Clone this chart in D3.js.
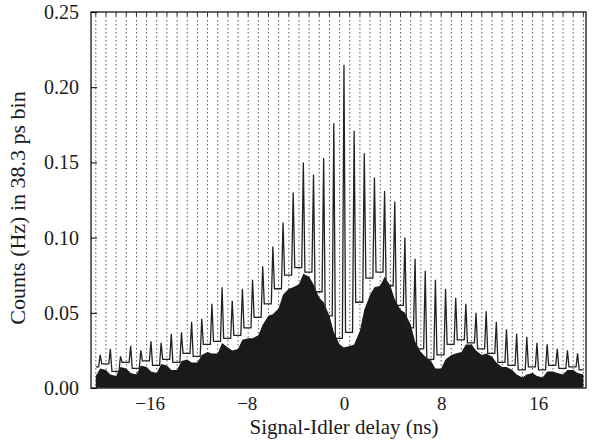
<!doctype html>
<html>
<head>
<meta charset="UTF-8">
<script src="https://d3js.org/d3.v7.min.js"></script>
<style>
  body { margin: 0; background: #fff; }
  text { font-family: "Liberation Serif", "Times New Roman", serif; fill: #1a1a1a; }
</style>
</head>
<body>
<div id="graph"></div>
<script>
// comb teeth: one per round trip, tooth k sits at (k - 24) * toothStep ns
var toothStep = 0.836;
var toothHalfWidth = 0.13;  // teeth are only a few bins wide
var gridOffset = -0.36;     // dotted lines sit just left of each tooth

// line trace (coincidences), top of each tooth, k = 0..47
var peakCounts = [0.022, 0.026, 0.021, 0.028, 0.025, 0.031, 0.030, 0.036,
                  0.037, 0.044, 0.046, 0.056, 0.067, 0.058, 0.066, 0.072,
                  0.081, 0.094, 0.110, 0.130, 0.150, 0.142, 0.153, 0.176,
                  0.215, 0.171, 0.156, 0.140, 0.131, 0.124, 0.100, 0.086,
                  0.078, 0.072, 0.066, 0.060, 0.056, 0.050, 0.051, 0.044,
                  0.039, 0.036, 0.034, 0.030, 0.029, 0.026, 0.025, 0.023];
// line trace in the gaps, k = 0..48
var troughCounts = [0.014, 0.016, 0.011, 0.017, 0.013, 0.018, 0.015, 0.019, 0.017,
                    0.023, 0.021, 0.029, 0.031, 0.033, 0.035, 0.040, 0.047,
                    0.056, 0.066, 0.075, 0.080, 0.077, 0.064, 0.048, 0.033,
                    0.037, 0.057, 0.073, 0.077, 0.068, 0.055, 0.040, 0.026,
                    0.019, 0.022, 0.029, 0.032, 0.030, 0.026, 0.023, 0.017,
                    0.015, 0.012, 0.014, 0.012, 0.015, 0.013, 0.014, 0.012];
// filled trace (accidentals), under the teeth and in the gaps
var fillPeak = [0.013, 0.009, 0.014, 0.010, 0.015, 0.011, 0.016, 0.012,
                0.018, 0.017, 0.022, 0.023, 0.030, 0.025, 0.032, 0.033,
                0.042, 0.049, 0.062, 0.067, 0.076, 0.069, 0.057, 0.037,
                0.027, 0.029, 0.052, 0.067, 0.074, 0.059, 0.050, 0.031,
                0.021, 0.013, 0.019, 0.023, 0.029, 0.025, 0.023, 0.017,
                0.014, 0.009, 0.009, 0.008, 0.011, 0.010, 0.012, 0.010];
var fillTrough = [0.008, 0.012, 0.008, 0.013, 0.009, 0.014, 0.010, 0.015, 0.012,
                  0.019, 0.017, 0.024, 0.023, 0.027, 0.026, 0.033, 0.035,
                  0.048, 0.053, 0.066, 0.069, 0.074, 0.060, 0.048, 0.029,
                  0.028, 0.038, 0.062, 0.068, 0.068, 0.052, 0.042, 0.024,
                  0.018, 0.013, 0.022, 0.024, 0.029, 0.022, 0.021, 0.014,
                  0.012, 0.007, 0.010, 0.007, 0.011, 0.009, 0.012, 0.009];

var xTicks = [-16, -8, 0, 8, 16];
var yTicks = [0, 0.05, 0.10, 0.15, 0.20, 0.25];

var w = 610, h = 441;
var margin = {top: 12, right: 24, bottom: 53, left: 91};
var iw = w - margin.left - margin.right,
    ih = h - margin.top - margin.bottom;

var svg = d3.select("#graph").append("svg")
    .attr("width", w)
    .attr("height", h);
var g = svg.append("g").attr("transform", "translate(" + margin.left + "," + margin.top + ")");

var x = d3.scaleLinear().domain([-20.82, 19.92]).range([0, iw]);
var y = d3.scaleLinear().domain([0, 0.25]).range([ih, 0]);

// merge gaps and teeth into one ordered list; each tooth rises from the gap level on either side
var linePts = [], fillPts = [];
troughCounts.forEach(function(v, k) {
    var tg = (k - 24) * toothStep + gridOffset;
    linePts.push({t: tg, v: v});
    fillPts.push({t: tg, v: fillTrough[k]});
    if (k < peakCounts.length) {
        var tp = (k - 24) * toothStep;
        linePts.push({t: tp - toothHalfWidth, v: v});
        linePts.push({t: tp, v: peakCounts[k]});
        linePts.push({t: tp + toothHalfWidth, v: troughCounts[k + 1]});
        fillPts.push({t: tp, v: fillPeak[k]});
    }
});

// dotted grid
var gridT = troughCounts.map(function(v, k) { return (k - 24) * toothStep + gridOffset; });
g.selectAll(".grid")
    .data(gridT)
    .enter().append("line")
    .attr("class", "grid")
    .attr("x1", function(d) { return x(d); })
    .attr("x2", function(d) { return x(d); })
    .attr("y1", 0).attr("y2", ih)
    .style("stroke", "#555")
    .style("stroke-width", 1)
    .style("stroke-dasharray", "1.5,2.5");
g.selectAll(".topTick")
    .data(gridT)
    .enter().append("line")
    .attr("x1", function(d) { return x(d); })
    .attr("x2", function(d) { return x(d); })
    .attr("y1", 0).attr("y2", 4)
    .style("stroke", "#333");

g.append("path")
    .datum(fillPts)
    .attr("d", d3.area()
        .x(function(d) { return x(d.t); })
        .y0(ih)
        .y1(function(d) { return y(d.v); }))
    .style("fill", "#1a1a1a");

g.append("path")
    .datum(linePts)
    .attr("d", d3.line()
        .x(function(d) { return x(d.t); })
        .y(function(d) { return y(d.v); }))
    .style("fill", "none")
    .style("stroke", "#222")
    .style("stroke-width", 1.3);

// frame
g.append("rect")
    .attr("width", iw).attr("height", ih)
    .style("fill", "none")
    .style("stroke", "#333")
    .style("stroke-width", 1.5);

var yAxis = g.append("g")
    .call(d3.axisLeft(y).tickValues(yTicks).tickFormat(d3.format(".2f"))
        .tickSizeInner(-6).tickSizeOuter(0).tickPadding(12));
yAxis.select(".domain").remove();
yAxis.selectAll("text").style("font-size", "20px");

var xAxis = g.append("g")
    .attr("transform", "translate(0," + ih + ")")
    .call(d3.axisBottom(x).tickValues(xTicks).tickFormat(d3.format("d"))
        .tickSize(0));
xAxis.select(".domain").remove();
xAxis.selectAll("text")
    .attr("y", 22)
    .attr("dy", 0)
    .style("font-size", "19px");

g.append("text")
    .attr("x", x(0))
    .attr("y", ih + 46)
    .attr("text-anchor", "middle")
    .style("font-size", "21px")
    .text("Signal-Idler delay (ns)");

g.append("text")
    .attr("transform", "translate(" + (-66) + "," + (ih / 2 + 8) + ") rotate(-90)")
    .attr("text-anchor", "middle")
    .style("font-size", "22px")
    .text("Counts (Hz) in 38.3 ps bin");
</script>
</body>
</html>
